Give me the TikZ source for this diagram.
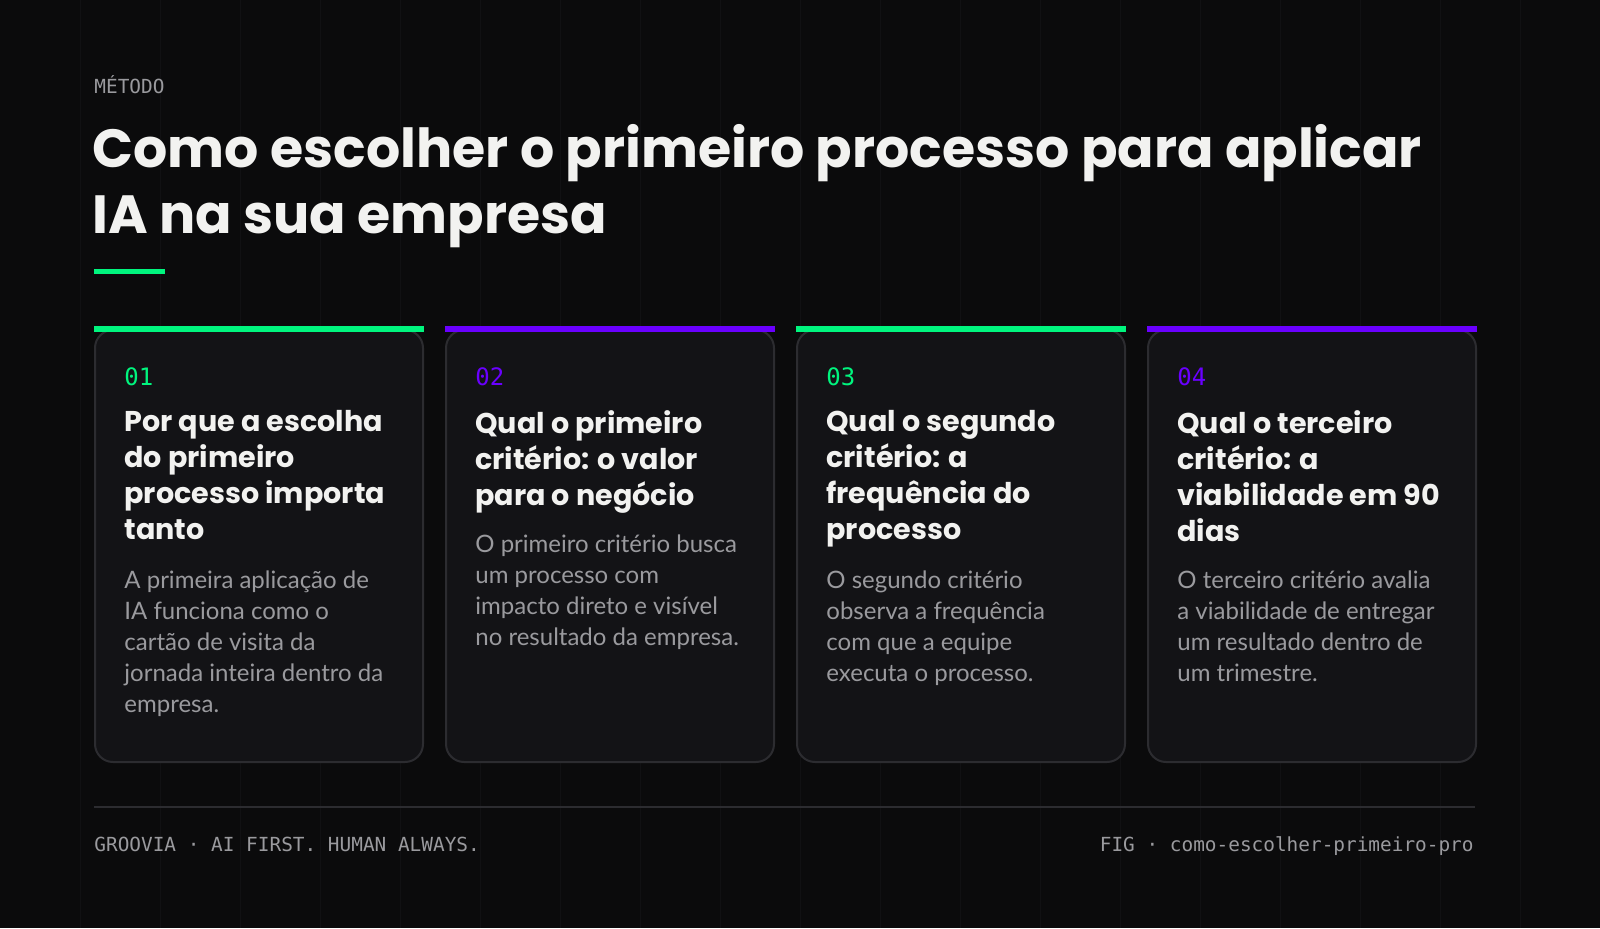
\documentclass[tikz,border=0pt]{standalone}
\usepackage{fontspec}
\setmainfont{Lato}
\newfontfamily\headfont{Poppins}
\setmonofont{DejaVu Sans Mono}
\usetikzlibrary{positioning}
\definecolor{bg}{HTML}{0B0B0C}
\definecolor{cardbg}{HTML}{131316}
\definecolor{cardline}{HTML}{2C2C30}
\definecolor{gridline}{HTML}{111113}
\definecolor{accgreen}{HTML}{00F57E}
\definecolor{accpurple}{HTML}{6A00FF}
\definecolor{bodygray}{HTML}{9A9A9E}
\definecolor{headwhite}{HTML}{F2F2F0}
\tikzset{
  card/.style={draw=cardline,line width=1pt,fill=cardbg,rounded corners=9pt,
    minimum width=164pt,minimum height=216pt,anchor=north west,inner sep=0pt},
  bar/.style={line width=3pt},
  num/.style={anchor=base west,font=\ttfamily\fontsize{12}{14}\selectfont,inner sep=0pt},
  ctitle/.style={anchor=north west,align=left,text=headwhite,inner sep=0pt,
    font=\headfont\bfseries\fontsize{14.3}{18}\selectfont},
  cbody/.style={anchor=north west,align=left,text=bodygray,inner sep=0pt,
    font=\fontsize{12}{15.6}\selectfont},
  meta/.style={inner sep=0pt,text=bodygray,font=\ttfamily\fontsize{9.7}{12}\selectfont}
}
\begin{document}
\begin{tikzpicture}[x=0.5pt,y=-0.5pt]
  \useasboundingbox[fill=bg] (0,0) rectangle (1600,928);
  % faint grid
  \foreach \gx in {80,160,...,1520}
    \draw[gridline,line width=0.5pt] (\gx,0) -- (\gx,928);
  % header
  \node[meta,anchor=base west] (kicker) at (94,93) {MÉTODO};
  \node[anchor=north west,align=left,text=headwhite,inner sep=0pt,
    font=\headfont\bfseries\fontsize{26.9}{33}\selectfont] (title) at (92,124)
    {Como escolher o primeiro processo para aplicar\\IA na sua empresa};
  \draw[accgreen,line width=2.5pt] (94,271) -- (165,271);
  % cards
  \foreach \i/\cx/\col in {1/94/accgreen,2/445/accpurple,3/796/accgreen,4/1147/accpurple}{
    \node[card] (card\i) at (\cx,329) {};
    \draw[\col,bar] (card\i.north west) -- (card\i.north east);
    \node[num,text=\col] (num\i) at (\cx+30,385) {0\i};
  }
  \node[ctitle] (title1) at (124,410) {Por que a escolha\\do primeiro\\processo importa\\tanto};
  \node[cbody] (body1) at (124,570) {A primeira aplicação de\\IA funciona como o\\cartão de visita da\\jornada inteira dentro da\\empresa.};
  \node[ctitle] (title2) at (475,410) {Qual o primeiro\\critério: o valor\\para o negócio};
  \node[cbody] (body2) at (475,534) {O primeiro critério busca\\um processo com\\impacto direto e visível\\no resultado da empresa.};
  \node[ctitle] (title3) at (826,410) {Qual o segundo\\critério: a\\frequência do\\processo};
  \node[cbody] (body3) at (826,570) {O segundo critério\\observa a frequência\\com que a equipe\\executa o processo.};
  \node[ctitle] (title4) at (1177,410) {Qual o terceiro\\critério: a\\viabilidade em 90\\dias};
  \node[cbody] (body4) at (1177,570) {O terceiro critério avalia\\a viabilidade de entregar\\um resultado dentro de\\um trimestre.};
  % footer
  \draw[cardline,line width=1pt] (94,807) -- (1475,807);
  \node[meta,anchor=base west] (brand) at (94,851) {GROOVIA · AI FIRST. HUMAN ALWAYS.};
  \node[meta,anchor=base east] (fig) at (1474,851) {FIG · como-escolher-primeiro-pro};
\end{tikzpicture}
\end{document}
